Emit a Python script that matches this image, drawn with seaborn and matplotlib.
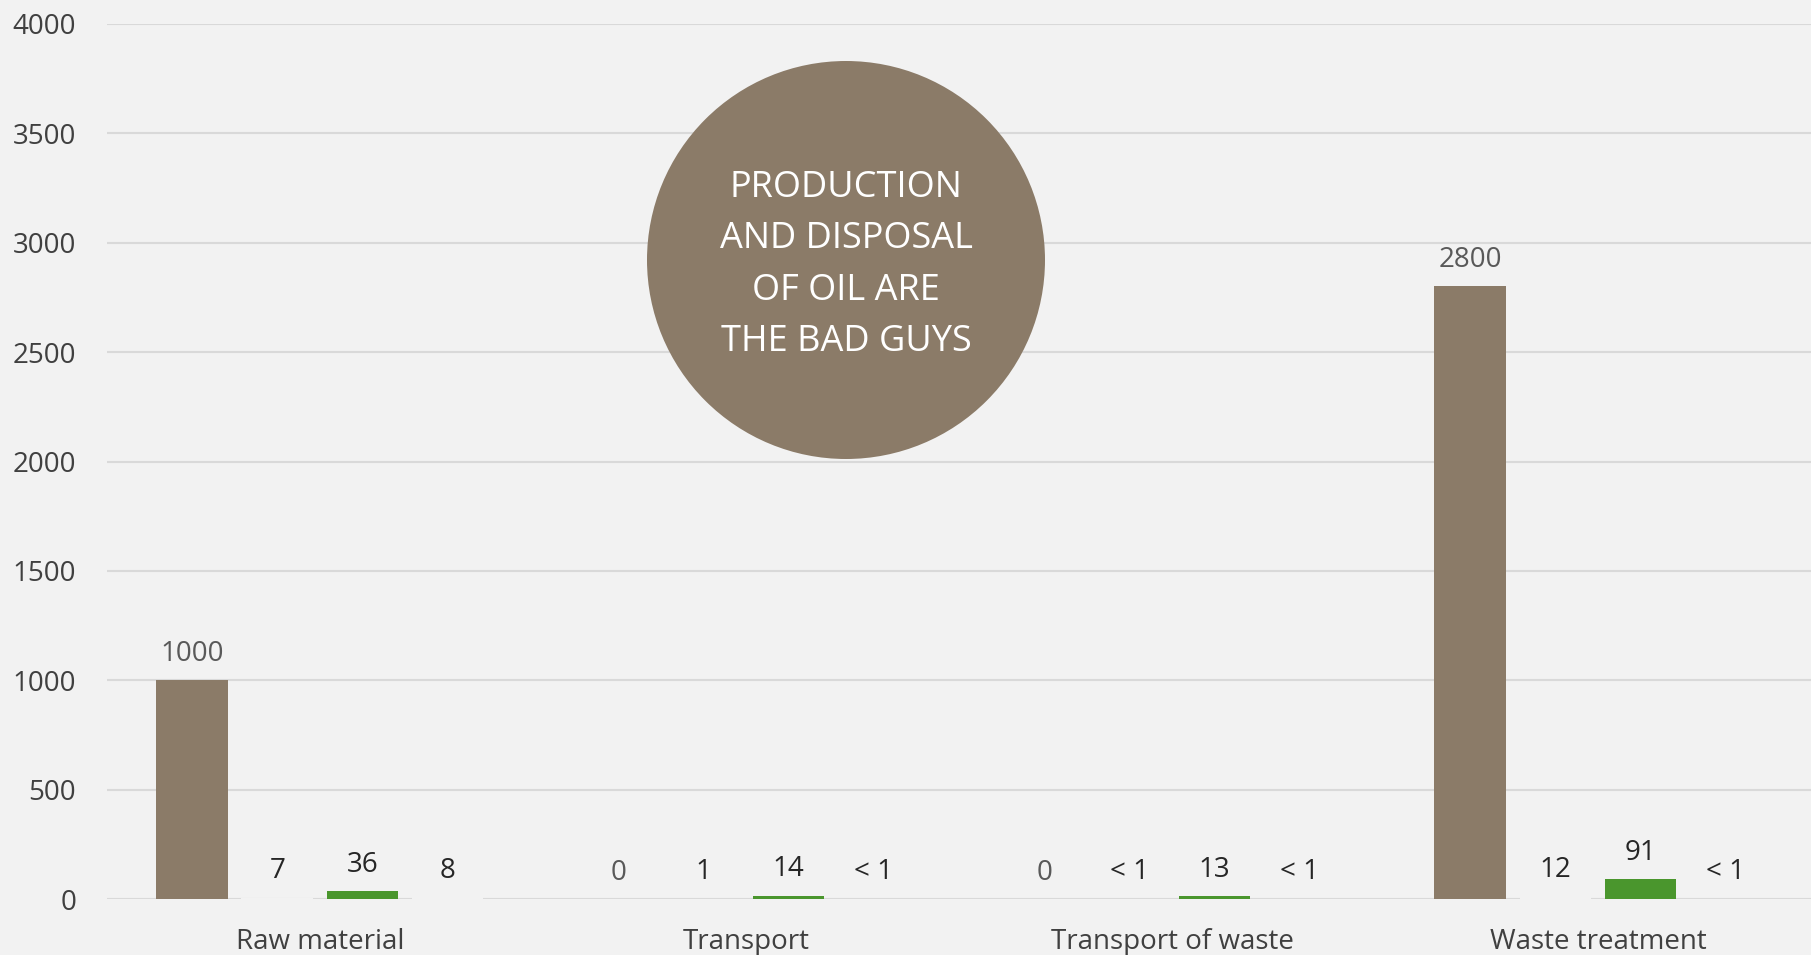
import pandas as pd
import numpy as np
import matplotlib
matplotlib.use("Agg")
import matplotlib.pyplot as plt
from matplotlib.patches import Ellipse
import seaborn as sns

# chart data
categories = ["Raw material", "Transport", "Transport of waste", "Waste treatment"]
series = ["Series 1", "Series 2", "Series 3", "Series 4"]
s1 = [1000, 0, 0, 2800]
s2 = [7, 1, 0.5, 12]
s3 = [36, 14, 13, 91]
s4 = [8, 0.5, 0.5, 0.5]
labels = [
    ["1000", "0", "0", "2800"],
    ["7", "1", "< 1", "12"],
    ["36", "14", "13", "91"],
    ["8", "< 1", "< 1", "< 1"],
]
y_ticks = [0, 500, 1000, 1500, 2000, 2500, 3000, 3500, 4000]
callout = "PRODUCTION\nAND DISPOSAL\nOF OIL ARE\nTHE BAD GUYS"

bg = "#f2f2f2"
brown = "#8b7b68"
green = "#4a962d"

df = pd.DataFrame({
    "category": np.repeat([categories], 4, axis=0).ravel(),
    "series": np.repeat(series, len(categories)),
    "value": s1 + s2 + s3 + s4,
})

sns.set_theme(style="whitegrid")
plt.rcParams["font.family"] = ["Open Sans", "DejaVu Sans"]

fig = plt.figure(figsize=(18.11, 9.55), dpi=100, facecolor=bg)
ax = fig.add_axes([0.059, 0.0586, 0.941, 0.9163])
ax.set_facecolor(bg)

sns.barplot(data=df, x="category", y="value", hue="series", order=categories,
            hue_order=series, palette=[brown, bg, green, bg], width=0.8, gap=0.16,
            saturation=1, linewidth=0, legend=False, ax=ax)

label_colors = ["#595959", "#262626", "#262626", "#262626"]
for cont, labs, col in zip(ax.containers, labels, label_colors):
    ax.bar_label(cont, labels=labs, padding=9, fontsize=20, color=col)

ax.set_xlim(-0.5, 3.5)
ax.set_ylim(0, 4000)
ax.set_yticks(y_ticks)
ax.set_xlabel("")
ax.set_ylabel("")
ax.grid(axis="x", visible=False)
ax.grid(axis="y", color="#d9d9d9", linewidth=1.5)
for s in ax.spines.values():
    s.set_visible(False)
ax.tick_params(axis="y", length=0, pad=22, labelsize=20, labelcolor="#404040")
ax.tick_params(axis="x", length=0, pad=21, labelsize=20, labelcolor="#404040")

# callout bubble
fig.add_artist(Ellipse((846 / 1811, 1 - 260 / 955), 398 / 1811, 398 / 955,
                       transform=fig.transFigure, facecolor=brown, edgecolor="none"))
fig.text(846 / 1811, 1 - 265 / 955, callout, ha="center", va="center",
         color="white", fontsize=26, linespacing=1.56)

fig.savefig("out.png", dpi=100, facecolor=bg)
